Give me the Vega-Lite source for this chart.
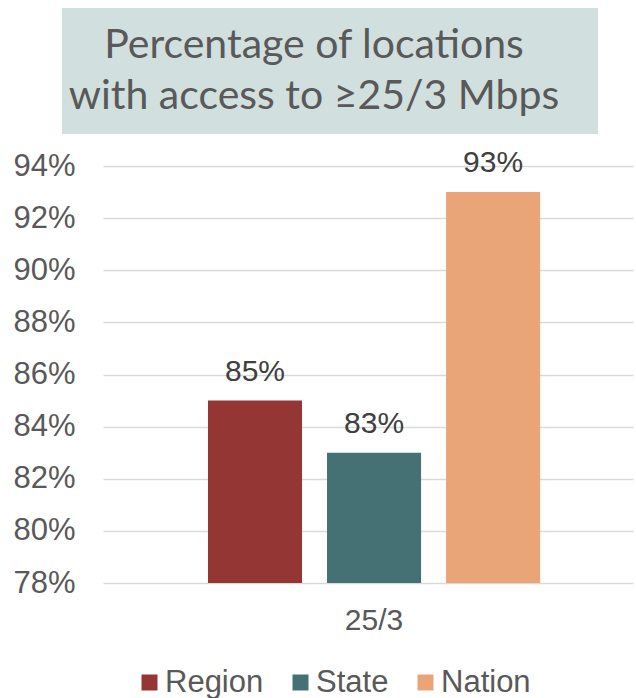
{
  "$schema": "https://vega.github.io/schema/vega-lite/v6.json",
  "padding": {"top": 8, "left": 12, "right": 0, "bottom": 0},
  "config": {"view": {"stroke": null}, "font": "Liberation Sans"},
  "center": true,
  "spacing": 14,
  "vconcat": [
    {
      "spacing": 0,
      "hconcat": [
        {
          "width": 536,
          "height": 126,
          "view": {"fill": "#d1dfde", "stroke": null},
          "data": {"values": [{"title": "Percentage of locations\nwith access to ≥25/3 Mbps"}]},
          "mark": {"type": "text", "font": "Lato", "fontSize": 41, "color": "#595959", "lineHeight": 51, "lineBreak": "\n", "baseline": "middle", "align": "center", "dy": -25, "dx": -16},
          "encoding": {"text": {"field": "title", "type": "nominal"}}
        },
        {
          "width": 76,
          "height": 126,
          "data": {"values": []},
          "mark": {"type": "rect"},
          "encoding": {}
        }
      ]
    },
    {
      "width": 530,
      "height": 417,
      "data": {"values": [
        {"speed": "25/3", "area": "Region", "pct": 0.85},
        {"speed": "25/3", "area": "State", "pct": 0.83},
        {"speed": "25/3", "area": "Nation", "pct": 0.93}
      ]},
      "encoding": {
        "x": {"field": "speed", "type": "nominal", "scale": {"paddingInner": 0, "paddingOuter": 0.242, "align": 0.535},
          "axis": {"title": null, "labelAngle": 0, "labelFontSize": 30, "labelColor": "#595959", "labelPadding": 22, "domain": false, "ticks": false}},
        "xOffset": {"field": "area", "type": "nominal", "sort": ["Region", "State", "Nation"], "scale": {"paddingInner": 0.21, "paddingOuter": 0.105}},
        "y": {"field": "pct", "type": "quantitative", "scale": {"domain": [0.78, 0.94], "zero": false, "nice": false},
          "axis": {"title": null, "values": [0.78, 0.80, 0.82, 0.84, 0.86, 0.88, 0.90, 0.92, 0.94], "format": ".0%", "labelFontSize": 31, "labelColor": "#595959", "labelPadding": 28, "domain": false, "ticks": false, "gridColor": "#d9d9d9", "gridWidth": 1.5}}
      },
      "layer": [
        {
          "mark": {"type": "bar"},
          "encoding": {
            "y2": {"datum": 0.78},
            "color": {"field": "area", "type": "nominal", "sort": ["Region", "State", "Nation"],
              "scale": {"domain": ["Region", "State", "Nation"], "range": ["#943634", "#457074", "#e9a477"]},
              "legend": {"orient": "none", "legendX": 72, "legendY": 659, "direction": "horizontal", "gridAlign": "none", "title": null, "symbolType": "square", "symbolSize": 256, "symbolStrokeWidth": 0, "labelFontSize": 31, "labelColor": "#595959", "labelOffset": 0, "columnPadding": 21}}
          }
        },
        {
          "mark": {"type": "text", "baseline": "bottom", "dy": -14, "fontSize": 30, "color": "#404040"},
          "encoding": {"text": {"field": "pct", "type": "quantitative", "format": ".0%"}}
        }
      ]
    }
  ]
}
